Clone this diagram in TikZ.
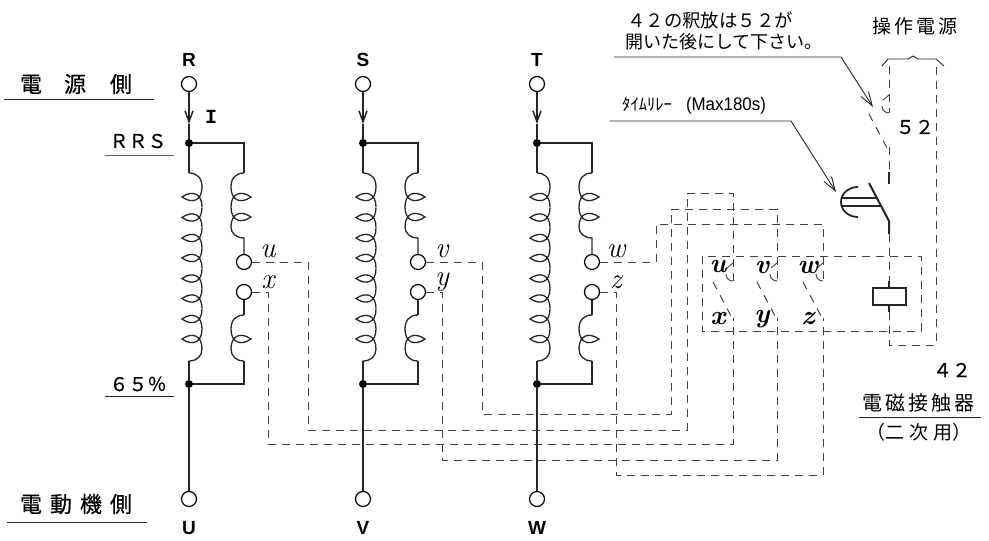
\documentclass[tikz,border=0pt]{standalone}
\usepackage{fontspec}
\usetikzlibrary{arrows.meta}
\newfontfamily\jp{Noto Sans CJK JP}
\newfontfamily\jpheavy[FakeBold=0.5]{Noto Sans CJK JP}
\newfontfamily\gothic{Liberation Sans}
\newfontfamily\typew{Liberation Mono}
\newcommand{\pxfont}[1]{\fontsize{#1}{#1}\selectfont}
\tikzset{
  wire/.style={line width=1.5pt,black!85},
  dashwire/.style={line width=1pt,black!75,dash pattern=on 8pt off 6pt},
  leader/.style={line width=0.9pt,black!85},
  rulew/.style={line width=1pt,black!85},
  terminal/.style={circle,draw,line width=1.2pt,fill=white,minimum size=15pt,inner sep=0pt},
  joint/.style={circle,fill=black,minimum size=8pt,inner sep=0pt},
  phase/.style={font=\gothic\bfseries\pxfont{19}},
  jptext/.style={font=\jp\pxfont{#1},inner sep=0pt},
  jpheavytext/.style={font=\jpheavy\pxfont{#1},inner sep=0pt},
  endname/.style={font=\itshape\pxfont{29},inner sep=0pt},
  boxname/.style={font=\bfseries\itshape\pxfont{27},inner sep=0pt},
  coilturn/.pic={\draw[wire,line width=1.3pt] (13,-10) .. controls (13,4) and (3,7) .. (-7,0)
     .. controls (3,-7) and (13,-4) .. (13,10);},
  contact/.pic={
    \draw[dashwire,dash pattern=on 8pt off 7pt] (-20,1) -- (-2,35);
    \draw[line width=0.9pt,black!75] (0,-18) -- (-6,-13) (-7,-7) .. controls (-7,-3) and (-4,0) .. (0,0);}
}
\begin{document}
\begin{tikzpicture}[x=1pt,y=-1pt,>={Straight Barb[length=11pt,width=8pt]}]
\useasboundingbox (0,0) rectangle (989,541);
% left side labels
\node[jpheavytext=22] (srcside) at (76,84) {電\hspace{22pt}源\hspace{24pt}側};
\draw[rulew] (4,99) -- (154,99);
\node[jpheavytext=19] (rrs) at (138,141) {ＲＲＳ};
\draw[rulew,black!60] (105,155) -- (174,155);
\node[jpheavytext=19] (pct) at (138,384) {６５％};
\draw[rulew] (105,396) -- (174,396);
\node[jpheavytext=22] (motside) at (76,504) {電\hspace{8pt}動\hspace{8pt}機\hspace{8pt}側};
\draw[rulew] (7,522) -- (147,522);
\node[font=\typew\bfseries\pxfont{20},inner sep=0pt] (curr) at (211,117) {I};
% the three phases
\foreach \x/\lin/\lout/\sa/\sb in {189/R/U/u/x,363/S/V/v/y,537/T/W/w/z} {
  \node[terminal] (in\lin) at (\x,84) {};
  \node[phase] at (\x,60) {\lin};
  \node[terminal] (out\lout) at (\x,499) {};
  \node[phase] at (\x,528) {\lout};
  \node[joint] (top\lin) at (\x,143) {};
  \node[joint] (bot\lin) at (\x,384) {};
  \node[terminal] (\sa) at (\x+55,262) {};
  \node[terminal] (\sb) at (\x+55,292) {};
  \node[endname] at (\x+79,251) {\sa};
  \node[endname] at (\x+79,282) {\sb};
  \draw[wire,->] (in\lin) -- (\x,124);
  \draw[wire] (\x,124) -- (top\lin) -- (\x,173);
  \draw[wire] (bot\lin) -- (\x,361);
  \draw[wire] (bot\lin) -- (out\lout);
  \draw[wire] (top\lin) -| (\x+55,173);
  \draw[wire] (bot\lin) -| (\x+55,361);
  % long winding
  \draw[wire,line width=1.3pt] (\x,173) .. controls (\x+8,173) and (\x+13,178) .. (\x+13,187);
  \foreach \y in {197,217.5,238,258,278.5,298.5,319,339}
    \pic at (\x,\y) {coilturn};
  \draw[wire,line width=1.3pt] (\x+13,349) .. controls (\x+13,356) and (\x+8,361) .. (\x,361);
  % short windings
  \draw[wire,line width=1.3pt] (\x+55,173) .. controls (\x+47,173) and (\x+42,178) .. (\x+42,187);
  \foreach \y in {197,217}
    \pic[xscale=-1] at (\x+55,\y) {coilturn};
  \draw[wire,line width=1.3pt] (\x+42,227) .. controls (\x+42,233) and (\x+47,238) .. (\x+55,238) -- (\sa);
  \draw[wire] (\sb) -- (\x+55,315);
  \draw[wire,line width=1.3pt] (\x+55,315) .. controls (\x+47,315) and (\x+42,320) .. (\x+42,329);
  \pic[xscale=-1] at (\x+55,339) {coilturn};
  \draw[wire,line width=1.3pt] (\x+42,349) .. controls (\x+42,356) and (\x+47,361) .. (\x+55,361);
}
% contactor box
\coordinate (boxtl) at (702,256);
\coordinate (boxbr) at (921,331);
\draw[dashwire] (boxtl) rectangle (boxbr);
\foreach \x/\sa/\sb in {733/u/x,777/v/y,823/w/z} {
  \coordinate (up\sa) at (\x,281);
  \coordinate (lo\sb) at (\x,318);
  \pic at (up\sa) {contact};
  \node[boxname] at (\x-15,267) {\sa};
  \node[boxname] at (\x-15,319) {\sb};
}
% wiring to the contactor
\draw[dashwire] (u) -- (308,262) -- (308,430) -- (687,430) -- (687,193) -- (733,193) -- (upu);
\draw[dashwire] (v) -- (482,262) -- (482,414) -- (671,414) -- (671,209) -- (777,209) -- (upv);
\draw[dashwire] (w) -- (656,262) -- (656,224) -- (823,224) -- (upw);
\draw[dashwire] (x) -- (268,292) -- (268,444) -- (733,444) -- (lox);
\draw[dashwire] (y) -- (442,292) -- (442,460) -- (777,460) -- (loy);
\draw[dashwire] (z) -- (616,292) -- (616,475) -- (823,475) -- (loz);
% control circuit
\coordinate (brl) at (889,66);
\coordinate (brr) at (936,66);
\draw[leader] (882,66) -- (888,59) -- (908,59) -- (913,56) -- (918,59) -- (936,59) -- (944,66);
\pic at (889,113) {contact};
\draw[dashwire] (brl) -- (889,113);
\draw[dashwire] (889,147) -- (889,172);
\draw[wire,line width=2pt] (889,172) -- (889,184);
\draw[wire,line width=2pt] (869,183) -- (889,221) -- (889,234);
\draw[wire,line width=1.8pt] (858,187) .. controls (848,187) and (841,194) .. (841,202)
   .. controls (841,210) and (848,217) .. (858,217);
\draw[wire,line width=1.8pt] (841,198) -- (878,198) (841,206) -- (882,206);
\node[draw,line width=2pt,black!85,minimum width=33pt,minimum height=17pt,inner sep=0pt] (mc) at (889,296) {};
\draw[wire,line width=2pt] (889,281) -- (mc.north) (mc.south) -- (889,312);
\draw[dashwire] (889,234) -- (889,281);
\draw[dashwire] (889,312) -- (889,345) -- (936,345) -- (brr);
% notes
\node[jptext=18.4,anchor=west] (relnote) at (627,20) {４２の釈放は５２が};
\node[jptext=18,anchor=west] (relnotb) at (625,42) {開いた後にして下さい。};
\node[jptext=19] (ctlpow) at (915,26) {操\hspace{3pt}作\hspace{3pt}電\hspace{3pt}源};
\node[jpheavytext=19] (cn52) at (915,127) {５２};
\node[jpheavytext=19] (cn42) at (952,370) {４２};
\node[jptext=20] (mcname) at (918,403) {電\hspace{3pt}磁\hspace{3pt}接\hspace{3pt}触\hspace{3pt}器};
\draw[rulew] (859,417) -- (981,417);
\node[jptext=19] (mcsub) at (919,432) {（二\hspace{5pt}次\hspace{5pt}用）};
\node[jptext=16.6,anchor=west] (timer) at (622,106) {ﾀｲﾑﾘﾚｰ\hspace{14pt}\scalebox{1.02}[1.1]{\gothic (Max180s)}};
\coordinate (tipnote) at (873,107);
\coordinate (tiptimer) at (836,192);
\draw[leader,-{Straight Barb[length=14pt,width=9pt]}] (614,57) -- (841,57) -- (tipnote);
\draw[leader,-{Straight Barb[length=14pt,width=9pt]}] (610,121) -- (791,121) -- (tiptimer);
\end{tikzpicture}
\end{document}
